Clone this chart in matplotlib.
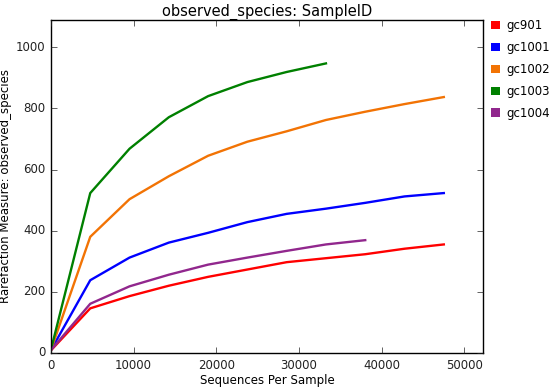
import matplotlib
matplotlib.use("Agg")
import matplotlib.pyplot as plt
from matplotlib.patches import Patch

# Rarefaction depths and observed species per sample
depths = [10, 4750, 9500, 14250, 19000, 23750, 28500, 33250, 38000, 42750, 47500]
samples = ["gc901", "gc1001", "gc1002", "gc1003", "gc1004"]
colors = ["#ff0000", "#0000ff", "#f27304", "#008000", "#91278d"]

gc901 = [9, 146, 186, 220, 249, 273, 297, 310, 323, 341, 355]
gc1001 = [10, 238, 312, 361, 393, 428, 455, 472, 491, 512, 523]
gc1002 = [11, 380, 503, 578, 645, 691, 725, 762, 789, 814, 837]
gc1003 = [12, 523, 668, 771, 840, 886, 919, 947]
gc1004 = [10, 161, 218, 256, 289, 312, 334, 355, 369]
series = [gc901, gc1001, gc1002, gc1003, gc1004]

plt.style.use("classic")
fig = plt.figure(figsize=(5.54, 3.92), dpi=100)
fig.patch.set_facecolor("white")
ax = fig.add_axes([0.092, 0.0995, 0.780, 0.8495])

for name, col, vals in zip(samples, colors, series):
    ax.plot(depths[:len(vals)], vals, color=col, lw=1.7, label=name)

ax.set_xlim(0, 52250)
ax.set_ylim(0, 1089)
ax.set_xticks([0, 10000, 20000, 30000, 40000, 50000])
ax.set_yticks([0, 200, 400, 600, 800, 1000])
ax.tick_params(labelsize=8.5, colors="#222222")
ax.set_xlabel("Sequences Per Sample", fontsize=8.5, labelpad=2)
ax.set_ylabel("Rarefaction Measure: observed_species", fontsize=8.5, labelpad=3)
ax.set_title("observed_species: SampleID", fontsize=10.5, pad=3)

handles = [Patch(facecolor=c, edgecolor="none", label=s) for s, c in zip(samples, colors)]
fig.legend(handles=handles, loc="upper left", bbox_to_anchor=(0.872, 0.972),
           frameon=False, fontsize=8.5, handlelength=0.7, handleheight=0.7,
           handletextpad=0.6, labelspacing=0.75, borderpad=0.2)

fig.savefig("out.png", dpi=100, facecolor="white")
